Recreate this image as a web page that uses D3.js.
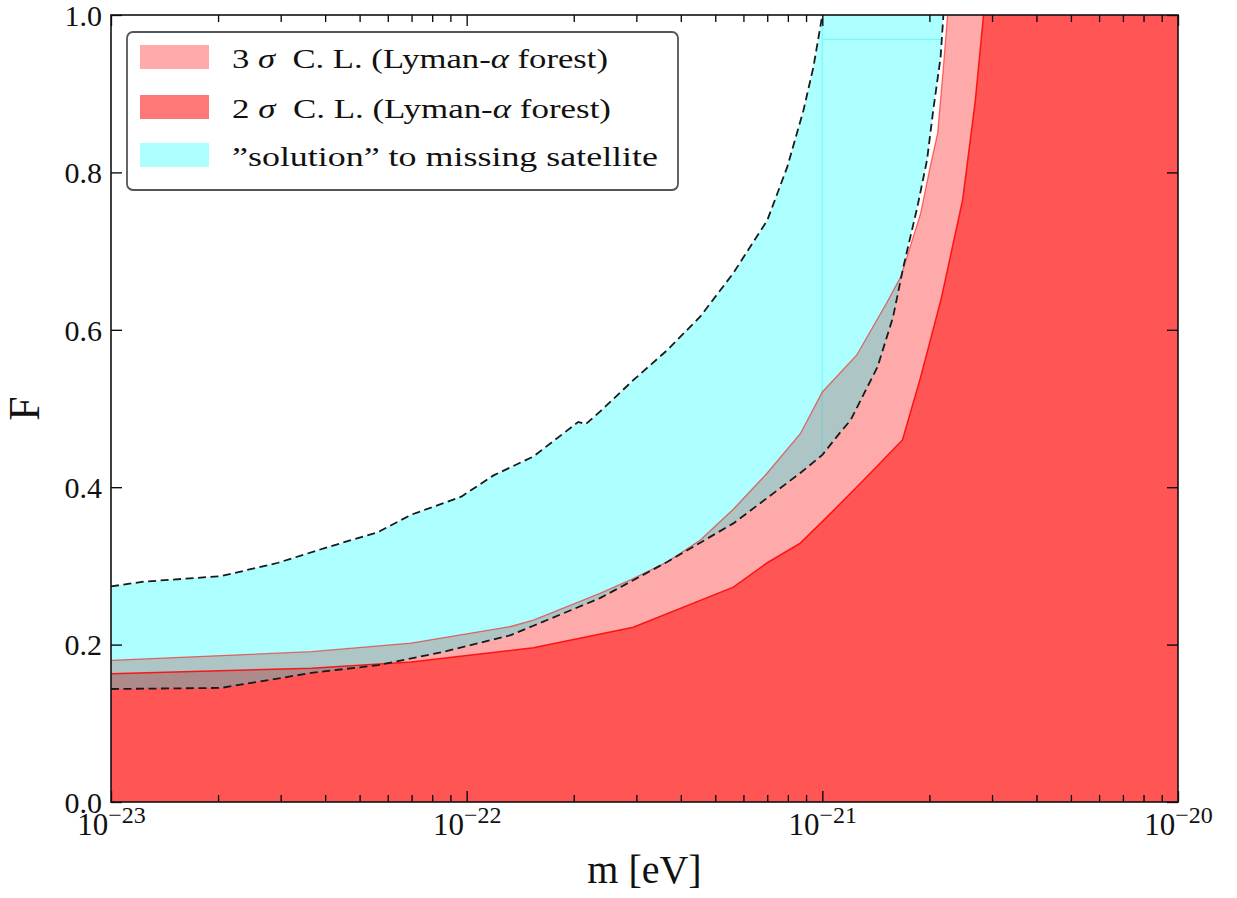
<!DOCTYPE html>
<html><head><meta charset="utf-8">
<script src="https://cdn.jsdelivr.net/npm/d3@7"></script>
<style>
body{margin:0;background:#fff}
svg text{font-family:"Liberation Serif","Times New Roman",serif !important;fill:#111}
</style>
</head><body>
<svg id="chart" width="1237" height="898"></svg>
<script>
// ---------- data (m in eV, F) ----------
const massTicks = [1e-23, 1e-22, 1e-21, 1e-20];
const massTickBase = ["10", "10", "10", "10"];
const massTickExp = ["\u221223", "\u221222", "\u221221", "\u221220"];
const fTicks = [0, 0.2, 0.4, 0.6, 0.8, 1.0];
const fTickLabels = ["0.0", "0.2", "0.4", "0.6", "0.8", "1.0"];

// 3 sigma C.L. upper boundary (Lyman-alpha forest)
const sigma3Upper = [
  [1e-23, 0.180], [3.66e-23, 0.191], [6.98e-23, 0.202], [1.33e-22, 0.223],
  [1.54e-22, 0.231], [2.37e-22, 0.265], [2.94e-22, 0.284], [3.66e-22, 0.305],
  [4.54e-22, 0.333], [5.62e-22, 0.372], [7.00e-22, 0.418], [8.67e-22, 0.468],
  [1.0e-21, 0.521], [1.25e-21, 0.568], [1.52e-21, 0.635],
  [1.66e-21, 0.667], [1.89e-21, 0.748], [2.01e-21, 0.807], [2.11e-21, 0.850],
  [2.19e-21, 0.934], [2.25e-21, 1.0]
];
// 2 sigma C.L. upper boundary
const sigma2Upper = [
  [1e-23, 0.163], [3.66e-23, 0.170], [6.98e-23, 0.178], [1.0e-22, 0.186],
  [1.54e-22, 0.196], [2.94e-22, 0.222], [5.62e-22, 0.273], [7.00e-22, 0.304],
  [8.67e-22, 0.329], [1.03e-21, 0.362], [1.28e-21, 0.405], [1.68e-21, 0.460],
  [1.89e-21, 0.540], [2.16e-21, 0.640], [2.48e-21, 0.765], [2.69e-21, 0.890],
  [2.84e-21, 1.0]
];
// "solution" to missing satellite: upper (left) dashed boundary
const cyanUpper = [
  [1e-23, 0.274], [1.24e-23, 0.280], [2.04e-23, 0.287], [2.95e-23, 0.304],
  [4.08e-23, 0.324], [5.64e-23, 0.343], [6.98e-23, 0.365], [9.66e-23, 0.388],
  [1.19e-22, 0.415], [1.54e-22, 0.439], [2.06e-22, 0.483], [2.16e-22, 0.480],
  [2.37e-22, 0.496], [2.94e-22, 0.536], [3.66e-22, 0.574], [4.54e-22, 0.617],
  [5.62e-22, 0.672], [7.00e-22, 0.739], [7.97e-22, 0.807], [8.85e-22, 0.879],
  [9.44e-22, 0.934], [9.87e-22, 0.985], [1.0e-21, 1.0]
];
// lower (right) dashed boundary
const cyanLower = [
  [1e-23, 0.1436], [2.04e-23, 0.145], [3.66e-23, 0.164], [5.64e-23, 0.174],
  [8.65e-23, 0.191], [1.33e-22, 0.212], [1.54e-22, 0.224], [2.37e-22, 0.259],
  [3.66e-22, 0.305], [5.62e-22, 0.354], [8.67e-22, 0.418], [1.0e-21, 0.441],
  [1.12e-21, 0.469], [1.20e-21, 0.485], [1.43e-21, 0.553], [1.58e-21, 0.616],
  [1.69e-21, 0.680], [1.85e-21, 0.756], [1.97e-21, 0.816], [2.05e-21, 0.879],
  [2.15e-21, 0.946], [2.19e-21, 1.0]
];
// faint seams between the patches of the cyan region
const cyanSeams = [
  [[1e-21, 0.441], [1e-21, 1.0]],
  [[1e-21, 0.969], [2.167e-21, 0.969]]
];
const legendLabels = ["3 \u03c3  C. L. (Lyman-\u03b1 forest)", "2 \u03c3  C. L. (Lyman-\u03b1 forest)", "\u201dsolution\u201d to missing satellite"];

// ---------- layout ----------
const L = 111, R = 1178, T = 15, B = 802;
const FONT = '"Liberation Serif","Times New Roman",serif';
const svg = d3.select("#chart");
const x = d3.scaleLog().domain([1e-23, 1e-20]).range([L, R]);
const y = d3.scaleLinear().domain([0, 1]).range([B, T]);
const mMax = x.domain()[1];

svg.append("defs").append("clipPath").attr("id", "clip")
  .append("rect").attr("x", L).attr("y", T).attr("width", R - L).attr("height", B - T);
const plot = svg.append("g").attr("clip-path", "url(#clip)");

const area = d3.area().x(d => x(d[0])).y0(y(0)).y1(d => y(d[1]));
const line = d3.line().x(d => x(d[0])).y(d => y(d[1]));
const closed = d3.line().x(d => x(d[0])).y(d => y(d[1])).curve(d3.curveLinearClosed);

// red regions
plot.append("path").datum(sigma3Upper.concat([[mMax, 1.0]]))
  .attr("d", area).attr("fill", "#ff0000").attr("fill-opacity", 0.333);
plot.append("path").datum(sigma2Upper.concat([[mMax, 1.0]]))
  .attr("d", area).attr("fill", "#ff0000").attr("fill-opacity", 0.5);

// cyan region (two patches split at 1e-21)
const split = 1e-21;
const patchA = cyanUpper.filter(d => d[0] <= split)
  .concat(cyanLower.filter(d => d[0] <= split).slice().reverse());
const patchB = cyanLower.filter(d => d[0] >= split).concat([[split, 1.0]]);
[patchA, patchB].forEach(p => {
  plot.append("path").datum(p).attr("d", closed)
    .attr("fill", "#00ffff").attr("fill-opacity", 0.32).attr("stroke", "none");
});
cyanSeams.forEach(s => {
  plot.append("path").datum(s).attr("d", line).attr("fill", "none")
    .attr("stroke", "#00e8e8").attr("stroke-opacity", 0.3).attr("stroke-width", 1.2);
});

// boundary lines
plot.append("path").datum(sigma3Upper).attr("d", line).attr("fill", "none")
  .attr("stroke", "#ff0000").attr("stroke-opacity", 0.55).attr("stroke-width", 1.3);
plot.append("path").datum(sigma2Upper).attr("d", line).attr("fill", "none")
  .attr("stroke", "#ff0000").attr("stroke-opacity", 0.85).attr("stroke-width", 1.5);
[cyanUpper, cyanLower].forEach(c => {
  plot.append("path").datum(c).attr("d", line).attr("fill", "none")
    .attr("stroke", "#1a1a1a").attr("stroke-width", 1.8).attr("stroke-dasharray", "8,4.5");
});

// ---------- axes ----------
const minorTicks = x.ticks().filter(v => !massTicks.some(m => Math.abs(v / m - 1) < 1e-6));
function styleAxis(g) {
  g.select(".domain").remove();
  g.selectAll(".tick line").attr("stroke", "#000").attr("stroke-width", 1.3);
  g.attr("font-family", FONT);
}
const axB = svg.append("g").attr("transform", `translate(0,${B})`)
  .call(d3.axisBottom(x).tickValues(massTicks).tickSize(-11).tickFormat(() => "")).call(styleAxis);
svg.append("g").attr("transform", `translate(0,${B})`)
  .call(d3.axisBottom(x).tickValues(minorTicks).tickSize(-7).tickFormat(() => "")).call(styleAxis);
svg.append("g").attr("transform", `translate(0,${T})`)
  .call(d3.axisTop(x).tickValues(massTicks).tickSize(-11).tickFormat(() => "")).call(styleAxis);
svg.append("g").attr("transform", `translate(0,${T})`)
  .call(d3.axisTop(x).tickValues(minorTicks).tickSize(-7).tickFormat(() => "")).call(styleAxis);
const axL = svg.append("g").attr("transform", `translate(${L},0)`)
  .call(d3.axisLeft(y).tickValues(fTicks).tickSize(-11).tickPadding(9).tickFormat((d, i) => fTickLabels[i])).call(styleAxis);
svg.append("g").attr("transform", `translate(${R},0)`)
  .call(d3.axisRight(y).tickValues(fTicks).tickSize(-11).tickFormat(() => "")).call(styleAxis);

axB.selectAll(".tick text").each(function (d, i) {
  const t = d3.select(this);
  t.attr("y", 33).attr("dy", null).attr("font-size", 31)
    .attr("fill", "#111").attr("text-anchor", "middle").style("font-family", FONT);
  t.append("tspan").text(massTickBase[i]);
  t.append("tspan").attr("dy", -12).attr("font-size", 24).text(massTickExp[i]);
});
axL.selectAll(".tick text").attr("font-size", 30).attr("fill", "#111").attr("dy", "0.34em")
  .style("font-family", FONT);

// frame
svg.append("rect").attr("x", L).attr("y", T).attr("width", R - L).attr("height", B - T)
  .attr("fill", "none").attr("stroke", "#111").attr("stroke-width", 1.6);

// axis titles
svg.append("text").attr("x", (L + R) / 2).attr("y", 883).attr("text-anchor", "middle")
  .attr("font-size", 40).text("m [eV]");
svg.append("text").attr("transform", `translate(39,${(T + B) / 2}) rotate(-90)`)
  .attr("text-anchor", "middle").attr("font-size", 44).text("F");

// ---------- legend ----------
const leg = svg.append("g");
leg.append("rect").attr("x", 127).attr("y", 32).attr("width", 551).attr("height", 158)
  .attr("rx", 6).attr("fill", "#fff").attr("fill-opacity", 0.9)
  .attr("stroke", "#555").attr("stroke-width", 1.8);
const swatches = [
  {fill: "#ff0000", op: 0.333},
  {fill: "#ff0000", op: 0.53},
  {fill: "#00ffff", op: 0.32}
];
const rowY = [45, 95, 143];
const textLen = [376, 379, 426];
swatches.forEach((s, i) => {
  leg.append("rect").attr("x", 140).attr("y", rowY[i]).attr("width", 69).attr("height", 24)
    .attr("fill", s.fill).attr("fill-opacity", s.op);
  const t = leg.append("text").attr("x", 232).attr("y", rowY[i] + 23).attr("font-size", 28)
    .attr("textLength", textLen[i]).attr("lengthAdjust", "spacingAndGlyphs")
    .style("white-space", "pre");
  const parts = legendLabels[i].split(/([\u03c3\u03b1])/);
  parts.forEach(p => {
    const ts = t.append("tspan").text(p);
    if (p === "\u03c3" || p === "\u03b1") ts.attr("font-style", "italic");
  });
});
</script>
</body></html>
